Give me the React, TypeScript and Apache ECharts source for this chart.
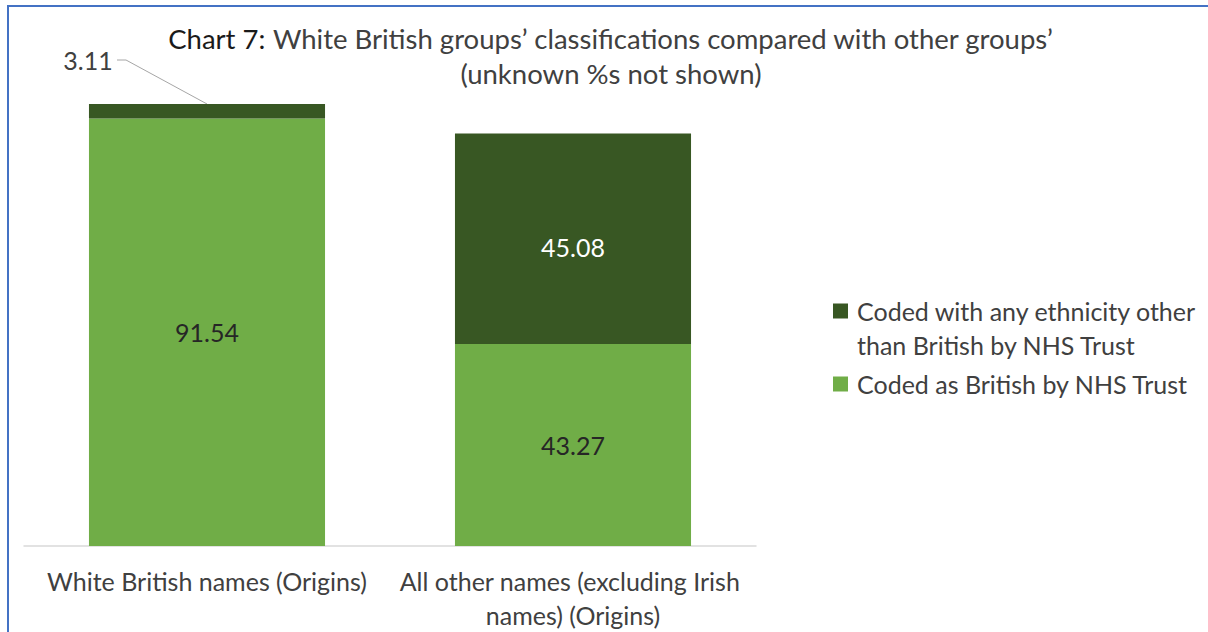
import React, { useEffect, useRef } from "react";
import * as echarts from "echarts";

const categories = [
  "White British names (Origins)",
  "All other names (excluding Irish names) (Origins)",
];
const britishValues = [91.54, 43.27];
const otherValues = [3.11, 45.08];
const seriesNames = [
  "Coded with any ethnicity other than British by NHS Trust",
  "Coded as British by NHS Trust",
];
const legendLabels = [
  " \nCoded with any ethnicity other\nthan British by NHS Trust",
  "Coded as British by NHS Trust",
];
const titleLines = [
  "White British groups’ classifications compared with other groups’",
  "(unknown %s not shown)",
];

const FONT = "Lato";
const TEXT = "#404040";
const LIGHT = "#70AD47";
const DARK = "#385723";
const FS = 25;

export default function App() {
  const ref = useRef<HTMLDivElement>(null);
  useEffect(() => {
    if (!ref.current) return;
    const chart = echarts.init(ref.current, null, { renderer: "svg" });
    const option: any = {
      animation: false,
      backgroundColor: "#fff",
      textStyle: { fontFamily: FONT },
      title: {
        text: "{b|Chart 7:} " + titleLines[0] + "\n" + titleLines[1],
        left: 611,
        top: 21,
        textAlign: "center",
        padding: 0,
        textStyle: {
          fontFamily: FONT,
          fontSize: 27.5,
          fontWeight: "normal",
          color: TEXT,
          lineHeight: 35,
          rich: {
            b: { fontFamily: FONT, fontSize: 27.5, color: "#1a1a1a", lineHeight: 35 },
          },
        },
      },
      legend: {
        orient: "vertical",
        left: 833,
        top: 260,
        padding: 0,
        itemGap: 5,
        itemWidth: 15,
        itemHeight: 15,
        icon: "rect",
        selectedMode: false,
        data: [seriesNames[0], seriesNames[1]],
        formatter: (name: string) => legendLabels[seriesNames.indexOf(name)],
        textStyle: {
          fontFamily: FONT,
          fontSize: FS,
          color: TEXT,
          lineHeight: 34,
          padding: [0, 0, 0, 4],
        },
      },
      grid: { left: 24, right: 452, top: 79, bottom: 84, containLabel: false },
      xAxis: {
        type: "category",
        data: categories,
        axisTick: { show: false },
        axisLine: { lineStyle: { color: "#d9d9d9", width: 1.5 } },
        axisLabel: {
          fontFamily: FONT,
          fontSize: FS,
          color: TEXT,
          lineHeight: 34,
          margin: 18,
          width: 366,
          overflow: "break",
          interval: 0,
        },
      },
      yAxis: { type: "value", min: 0, max: 100, show: false },
      series: [
        {
          name: seriesNames[1],
          type: "bar",
          stack: "total",
          barWidth: "64.5%",
          itemStyle: { color: LIGHT },
          data: britishValues,
          label: {
            show: true,
            position: "inside",
            fontFamily: FONT,
            fontSize: FS,
            color: "#262626",
          },
        },
        {
          name: seriesNames[0],
          type: "bar",
          stack: "total",
          barWidth: "64.5%",
          itemStyle: { color: DARK },
          data: otherValues.map((v, i) =>
            i === 0
              ? { value: v, label: { color: TEXT, position: "top" } }
              : { value: v, label: { color: "#ffffff" } }
          ),
          label: {
            show: true,
            position: "inside",
            fontFamily: FONT,
            fontSize: FS,
          },
          labelLayout: (p: any) =>
            p.dataIndex === 0
              ? { x: 88, y: 60, align: "center", verticalAlign: "middle" }
              : { dy: 8 },
        },
      ],
    };
    chart.setOption(option);
    const top = chart.convertToPixel({ xAxisIndex: 0, yAxisIndex: 0 }, [
      0,
      britishValues[0] + otherValues[0],
    ]) as number[];
    chart.setOption({
      graphic: [
        {
          type: "rect",
          z: -1,
          shape: { x: 8, y: 6, width: 1400, height: 1000 },
          style: { fill: "none", stroke: "#4472C4", lineWidth: 2 },
        },
        {
          type: "polyline",
          shape: { points: [[117, 60], [126, 60], [top[0], top[1]]] },
          style: { fill: "none", stroke: "#a6a6a6", lineWidth: 1 },
        },
      ],
    });
    return () => chart.dispose();
  }, []);
  return (
    <div
      ref={ref}
      style={{ position: "fixed", left: 0, top: 0, width: 1208, height: 632 }}
    />
  );
}
